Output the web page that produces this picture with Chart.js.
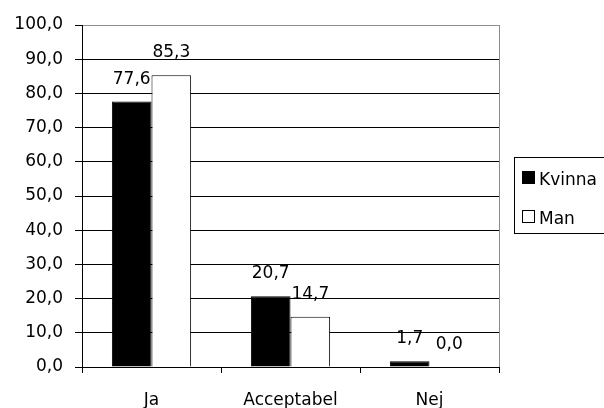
<!DOCTYPE html>
<html>
<head>
<meta charset="utf-8">
<script src="https://cdn.jsdelivr.net/npm/chart.js@4/dist/chart.umd.min.js"></script>
<style>
  html, body { margin: 0; padding: 0; background: #fff; }
  #wrap { width: 604px; height: 408px; position: relative; }
</style>
</head>
<body>
<div id="wrap"><canvas id="myChart"></canvas></div>
<script>
var categories = ["Ja", "Acceptabel", "Nej"];
var kvinnaValues = [77.6, 20.7, 1.7];
var manValues = [85.3, 14.7, 0.0];
var seriesNames = ["Kvinna", "Man"];

var FONT = "DejaVu Sans";

function fmt(v) {
    return v.toFixed(1).replace(".", ",");
}

// value labels above each bar
const valueLabels = {
    id: "valueLabels",
    afterDatasetsDraw(chart) {
        const c = chart.ctx;
        c.save();
        c.font = "17px '" + FONT + "'";
        c.fillStyle = "#000";
        c.textAlign = "center";
        c.textBaseline = "alphabetic";
        chart.data.datasets.forEach(function (ds, i) {
            chart.getDatasetMeta(i).data.forEach(function (bar, j) {
                c.fillText(fmt(ds.data[j]), bar.x, bar.y - 18);
            });
        });
        c.restore();
    }
};

// gray frame line on the right of the plot
const plotFrame = {
    id: "plotFrame",
    afterDatasetsDraw(chart) {
        const a = chart.chartArea;
        const c = chart.ctx;
        c.save();
        c.strokeStyle = "#8c8c8c";
        c.lineWidth = 1;
        c.beginPath();
        c.moveTo(a.right + 0.5, a.top);
        c.lineTo(a.right + 0.5, a.bottom);
        c.stroke();
        c.restore();
    }
};

// boxed legend at the right, cut by the canvas edge like the original
const boxLegend = {
    id: "boxLegend",
    afterDraw(chart) {
        const c = chart.ctx;
        const x = 514, y = 157;
        c.save();
        c.fillStyle = "#fff";
        c.fillRect(x, y, 110, 76);
        c.strokeStyle = "#000";
        c.lineWidth = 1;
        c.strokeRect(x + 0.5, y + 0.5, 110, 76);
        c.font = "17px '" + FONT + "'";
        c.textBaseline = "alphabetic";
        chart.data.datasets.forEach(function (ds, i) {
            const sy = y + 14 + i * 39;
            c.fillStyle = ds.backgroundColor;
            c.fillRect(x + 8, sy, 13, 13);
            c.strokeStyle = "#000";
            c.strokeRect(x + 8.5, sy + 0.5, 12, 12);
            c.fillStyle = "#000";
            c.fillText(ds.label, x + 25, sy + 14);
        });
        c.restore();
    }
};

const ctx = document.getElementById("myChart");
var myChart = new Chart(ctx, {
    type: "bar",
    data: {
        labels: categories,
        datasets: [{
            label: seriesNames[0],
            data: kvinnaValues,
            backgroundColor: "#000000",
            borderColor: "#000000",
            borderWidth: 1
        }, {
            label: seriesNames[1],
            data: manValues,
            backgroundColor: "#ffffff",
            borderColor: "#000000",
            borderWidth: 1
        }]
    },
    options: {
        responsive: true,
        maintainAspectRatio: false,
        animation: false,
        devicePixelRatio: 1,
        categoryPercentage: 0.57,
        barPercentage: 1.0,
        layout: {
            padding: { left: 0, right: 105, top: 25, bottom: 0 }
        },
        plugins: {
            legend: { display: false },
            tooltip: { enabled: false }
        },
        scales: {
            x: {
                afterFit: function (scale) { scale.height = 41; },
                grid: {
                    offset: true,
                    drawOnChartArea: false,
                    drawTicks: true,
                    tickLength: 6,
                    color: "#000"
                },
                border: { color: "#000", width: 1 },
                ticks: {
                    color: "#000",
                    padding: 17,
                    font: { family: FONT, size: 17 }
                }
            },
            y: {
                min: 0,
                max: 100,
                afterFit: function (scale) { scale.width = 82; },
                grid: {
                    color: function (c) { return c.tick && c.tick.value === 100 ? "#8c8c8c" : "#000"; },
                    tickColor: "#000",
                    tickLength: 7,
                    lineWidth: 1
                },
                border: { color: "#000", width: 1 },
                ticks: {
                    stepSize: 10,
                    color: "#000",
                    padding: 12,
                    font: { family: FONT, size: 17 },
                    callback: function (v) { return fmt(v); }
                }
            }
        }
    },
    plugins: [valueLabels, plotFrame, boxLegend]
});
</script>
</body>
</html>
